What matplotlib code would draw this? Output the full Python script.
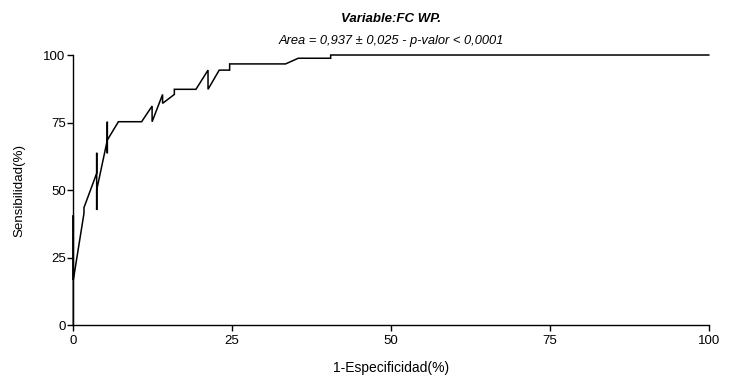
import matplotlib
matplotlib.use("Agg")
import matplotlib.pyplot as plt

plt.rcParams['font.family'] = ['Liberation Sans', 'DejaVu Sans']

# ROC curve vertices: 1-specificity (%) and sensitivity (%)
fpr = [0, 0, 0, 1.68, 1.68, 3.68, 3.68, 3.68, 3.68, 5.35, 5.35, 5.35, 5.35,
       7.1, 10.75, 12.4, 12.4, 14.05, 14.05, 15.9, 15.9, 19.3, 21.2, 21.2,
       22.96, 24.6, 24.6, 33.4, 35.4, 40.5, 40.5, 100]
tpr = [0, 40.7, 16.7, 41.4, 43.5, 56.2, 63.8, 42.6, 50, 68.5, 75.3, 63.6, 68.5,
       75.3, 75.3, 81.1, 75.3, 85.4, 82.1, 85.4, 87.3, 87.3, 94.4, 87.3,
       94.4, 94.4, 96.7, 96.7, 98.8, 98.8, 100, 100]

x_ticks = [0, 25, 50, 75, 100]
y_ticks = [0, 25, 50, 75, 100]

title = "Variable:FC WP."
subtitle = "Area = 0,937 ± 0,025 - p-valor < 0,0001"

fig = plt.figure(figsize=(7.36, 3.82), dpi=100)
ax = fig.add_axes([0.0996, 0.149, 0.8634, 0.707])

ax.plot(fpr, tpr, color='black', linewidth=1.1, solid_joinstyle='miter', clip_on=False)

ax.set_xlim(0, 100)
ax.set_ylim(0, 100)
ax.set_xticks(x_ticks)
ax.set_yticks(y_ticks)
ax.spines['top'].set_visible(False)
ax.spines['right'].set_visible(False)
for s in ('left', 'bottom'):
    ax.spines[s].set_linewidth(1.0)
ax.tick_params(axis='both', direction='out', length=4, width=1.0, labelsize=9.5, pad=1.5)
ax.tick_params(axis='x', pad=3)

ax.set_xlabel("1-Especificidad(%)", fontsize=10, labelpad=10)
ax.set_ylabel("Sensibilidad(%)", fontsize=9.6, labelpad=13)

fig.text(0.5315, 1 - 19 / 382, title, ha='center', va='center',
         fontsize=9.5, fontweight='bold', fontstyle='italic')
fig.text(0.5315, 1 - 41 / 382, subtitle, ha='center', va='center',
         fontsize=9.3, fontstyle='italic')

fig.savefig("out.png", dpi=100)
